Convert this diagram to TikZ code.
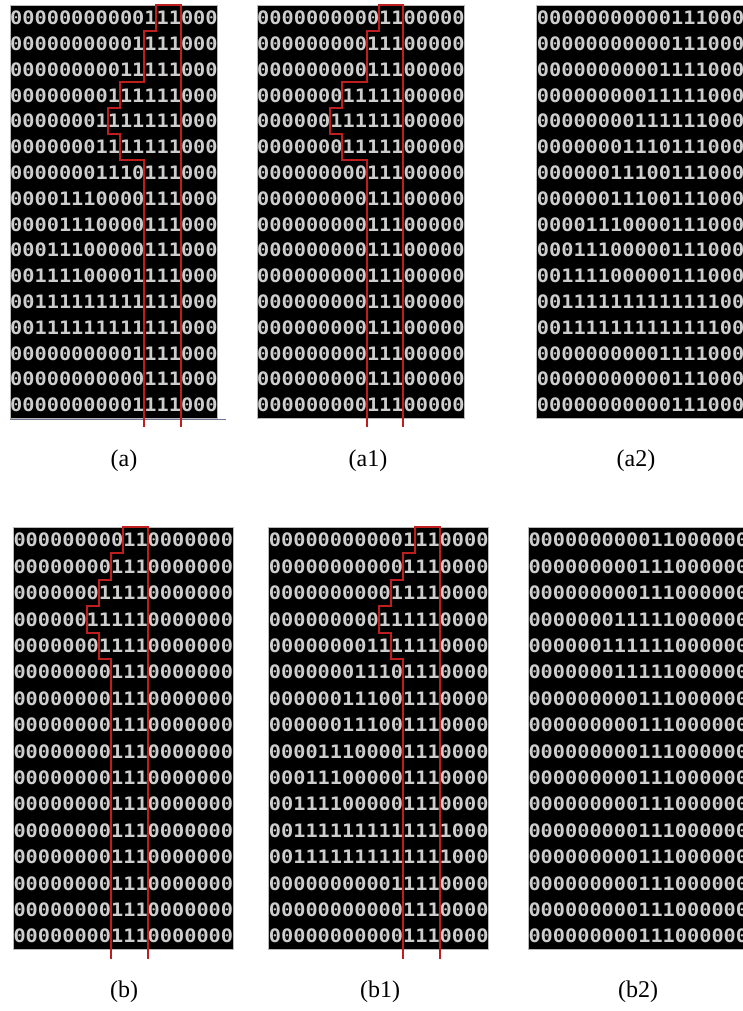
\documentclass[tikz,border=0pt]{standalone}
\usepackage{fontspec}
\setmainfont{Liberation Serif}
\newfontfamily\gridfont[FakeStretch=1.0955]{DejaVu Sans Mono}
\definecolor{digitgray}{RGB}{205,205,205}
\definecolor{outlinered}{RGB}{190,30,30}
\definecolor{rulegray}{RGB}{110,120,150}
\tikzset{
  gridbg/.style={fill=black, draw=gray!55, line width=0.6pt},
  digits/.style={font=\gridfont\bfseries\fontsize{18.5}{18.5}\selectfont, text=digitgray, inner sep=0pt, anchor=west},
  redline/.style={draw=outlinered, line width=2pt, line join=miter},
  lab/.style={font=\fontsize{24}{24}\selectfont, inner sep=0pt}
}
% #1 name, #2 x0, #3 y0, #4 row pitch, #5 columns, #6 rows
\newcommand\drawgrid[6]{%
  \begin{scope}[shift={(#2,#3)}, x=12.2pt, y=-#4pt]
    \path[gridbg] (0,0) rectangle (#5,16);
    \foreach \r [count=\i from 0] in {#6}
      \node[digits] (#1-\i) at (0,\i+0.5) {\r};
  \end{scope}}
\begin{document}
\begin{tikzpicture}[x=1pt, y=-1pt]
\useasboundingbox (0,0) rectangle (743,1011);
\clip (0,0) rectangle (743,1011);

% ---------- top row ----------
\drawgrid{ga}{10}{5}{25.8}{17}{%
00000000000111000,00000000001111000,00000000011111000,00000000111111000,%
00000001111111000,00000001111111000,00000001110111000,00001110000111000,%
00001110000111000,00011100000111000,00111100001111000,00111111111111000,%
00111111111111000,00000000001111000,00000000000111000,00000000001111000}
\drawgrid{gaa}{257}{5}{25.8}{17}{%
00000000001100000,00000000011100000,00000000011100000,00000001111100000,%
00000011111100000,00000001111100000,00000000011100000,00000000011100000,%
00000000011100000,00000000011100000,00000000011100000,00000000011100000,%
00000000011100000,00000000011100000,00000000011100000,00000000011100000}
\drawgrid{gab}{536.7}{5}{25.8}{17}{%
00000000000111000,00000000000111000,00000000001111000,00000000011111000,%
00000000111111000,00000001110111000,00000011100111000,00000011100111000,%
00001110000111000,00011100000111000,00111100000111000,00111111111111100,%
00111111111111100,00000000001111000,00000000000111000,00000000000111000}

\draw[rulegray, line width=0.8pt] (10,419) -- (226,419);
% outline of the "1" over (a)
\begin{scope}[shift={(10,5)}, x=12.2pt, y=-25.8pt]
  \draw[redline] (11,16.35) -- (11,6) -- (9,6) -- (9,5) -- (8,5) -- (8,4) -- (9,4) -- (9,3) -- (11,3) -- (11,1) -- (12,1) -- (12,0) -- (14,0) -- (14,16.35);
\end{scope}
% outline of the "1" in (a1)
\begin{scope}[shift={(257,5)}, x=12.2pt, y=-25.8pt]
  \draw[redline] (9,16.35) -- (9,6) -- (7,6) -- (7,5) -- (6,5) -- (6,4) -- (7,4) -- (7,3) -- (9,3) -- (9,1) -- (10,1) -- (10,0) -- (12,0) -- (12,16.35);
\end{scope}

\node[lab] (la) at (124,461) {(a)};
\node[lab] (laa) at (368,461) {(a1)};
\node[lab] (lab2) at (636,461) {(a2)};

% ---------- bottom row ----------
\drawgrid{gb}{13.3}{527}{26.4}{18}{%
000000000110000000,000000001110000000,000000011110000000,000000111110000000,%
000000011110000000,000000001110000000,000000001110000000,000000001110000000,%
000000001110000000,000000001110000000,000000001110000000,000000001110000000,%
000000001110000000,000000001110000000,000000001110000000,000000001110000000}
\drawgrid{gba}{268.7}{527}{26.4}{18}{%
000000000001110000,000000000001110000,000000000011110000,000000000111110000,%
000000001111110000,000000011101110000,000000111001110000,000000111001110000,%
000011100001110000,000111000001110000,001111000001110000,001111111111111000,%
001111111111111000,000000000011110000,000000000001110000,000000000001110000}
\drawgrid{gbb}{528.3}{527}{26.4}{18}{%
000000000011000000,000000000111000000,000000000111000000,000000011111000000,%
000000111111000000,000000011111000000,000000000111000000,000000000111000000,%
000000000111000000,000000000111000000,000000000111000000,000000000111000000,%
000000000111000000,000000000111000000,000000000111000000,000000000111000000}

% outline of the "1" in (b)
\begin{scope}[shift={(13.3,527)}, x=12.2pt, y=-26.4pt]
  \draw[redline] (8,16.35) -- (8,5) -- (7,5) -- (7,4) -- (6,4) -- (6,3) -- (7,3) -- (7,2) -- (8,2) -- (8,1) -- (9,1) -- (9,0) -- (11,0) -- (11,16.35);
\end{scope}
% outline of the "1" over (b1)
\begin{scope}[shift={(268.7,527)}, x=12.2pt, y=-26.4pt]
  \draw[redline] (11,16.35) -- (11,5) -- (10,5) -- (10,4) -- (9,4) -- (9,3) -- (10,3) -- (10,2) -- (11,2) -- (11,1) -- (12,1) -- (12,0) -- (14,0) -- (14,16.35);
\end{scope}

\node[lab] (lb) at (124,992) {(b)};
\node[lab] (lba) at (380,992) {(b1)};
\node[lab] (lbb) at (638,992) {(b2)};
\end{tikzpicture}
\end{document}
